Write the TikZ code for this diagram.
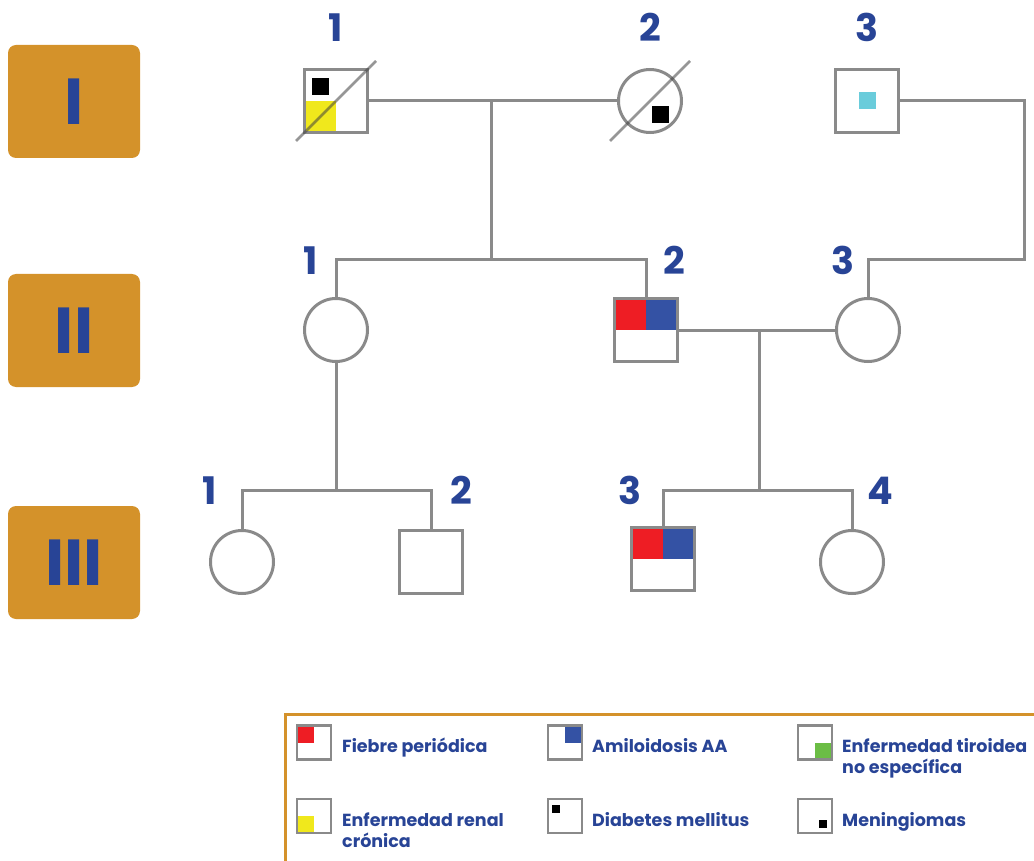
\documentclass[tikz,border=0pt]{standalone}
\usepackage{fontspec}
\setmainfont{Poppins}
\usetikzlibrary{positioning,calc}
\definecolor{genOrange}{RGB}{212,146,42}
\definecolor{txtBlue}{RGB}{40,68,150}
\definecolor{lineGray}{RGB}{138,138,138}
\definecolor{fpRed}{RGB}{238,29,36}
\definecolor{aaBlue}{RGB}{52,82,164}
\definecolor{ercYellow}{RGB}{240,232,28}
\definecolor{thGreen}{RGB}{107,189,69}
\definecolor{mnCyan}{RGB}{106,204,219}
\def\symW{63}
\def\legW{34}
\def\lineW{3pt}
\tikzset
{
  Male/.style =
  {
    draw=lineGray,
    line width=\lineW,
    fill=white,
    minimum size=\symW pt,
    inner sep=0pt,
  },
  Female/.style = {Male, circle},
  Line/.style = {draw=lineGray, line width=\lineW},
  Dead/.style = {draw=black!75, opacity=0.55, line width=2.6pt},
  GenBox/.style =
  {
    fill=genOrange,
    rounded corners=8pt,
    minimum width=132pt,
    minimum height=113pt,
    inner sep=0pt,
    text=txtBlue,
    font=\fontsize{65}{65}\selectfont\bfseries,
    text height=46pt,
    text depth=0pt,
  },
  IdNum/.style = {text=txtBlue, font=\fontsize{38}{38}\selectfont\bfseries, anchor=base, inner sep=0pt},
  LegSym/.style = {draw=lineGray, line width=2.6pt, fill=white, minimum size=\legW pt, inner sep=0pt},
  LegText/.style = {text=txtBlue, font=\fontsize{17.5}{21}\selectfont\bfseries, anchor=base west, align=left, inner sep=0pt},
}
\begin{document}
\begin{tikzpicture}
[
  x=1pt, y=-1pt, % pixel grid, y runs down
]
\useasboundingbox (0,0) rectangle (1034,861);

% generations
\node (genI) [GenBox] at (74,101.5) {I};
\node (genII) [GenBox] at (74,330.5) {II};
\node (genIII) [GenBox] at (74,562.5) {III};

% generation I
\node (I1) [Male, path picture={
    \fill[ercYellow] (path picture bounding box.south west) rectangle (path picture bounding box.center);
    \fill[black] ($(path picture bounding box.center)+(-24pt,23pt)$) rectangle ++(17pt,-17pt);
  }] at (336,101) {};
\node (I2) [Female, path picture={
    \fill[black] ($(path picture bounding box.center)+(2pt,-5pt)$) rectangle ++(17pt,-17pt);
  }] at (650,101) {};
\node (I3) [Male, path picture={
    \fill[mnCyan] ($(path picture bounding box.center)+(-8.5pt,8.5pt)$) rectangle ++(17pt,-17pt);
  }] at (867,101) {};
\draw [Dead] ($(I1)+(-40,40)$) -- ($(I1)+(40,-40)$);
\draw [Dead] ($(I2)+(-40,40)$) -- ($(I2)+(40,-40)$);

% generation II
\node (II1) [Female] at (336,330) {};
\node (II2) [Male, path picture={
    \fill[fpRed] (path picture bounding box.north west) rectangle (path picture bounding box.center);
    \fill[aaBlue] (path picture bounding box.north) rectangle (path picture bounding box.east);
  }] at (646,330) {};
\node (II3) [Female] at (868,330) {};

% generation III
\node (III1) [Female] at (242,562) {};
\node (III2) [Male] at (431,562) {};
\node (III3) [Male, path picture={
    \fill[fpRed] (path picture bounding box.north west) rectangle (path picture bounding box.center);
    \fill[aaBlue] (path picture bounding box.north) rectangle (path picture bounding box.east);
  }] at (663,559) {};
\node (III4) [Female] at (852,562) {};

% lines
\coordinate (mI) at (491,101);
\coordinate (sII) at (491,260);
\coordinate (mR) at (1024,101);
\coordinate (sR) at (1024,260);
\coordinate (sIIIa) at (336,490);
\coordinate (mII) at (759,330);
\coordinate (sIIIb) at (759,490);
\draw [Line] (I1) -- (I2);
\draw [Line] (mI) -- (sII);
\draw [Line] (II1.north) |- (sII) -| (II2.north);
\draw [Line] (I3) -- (mR) -- (sR) -| (II3.north);
\draw [Line] (II1) -- (sIIIa);
\draw [Line] (III1.north) |- (sIIIa) -| (III2.north);
\draw [Line] (II2) -- (II3);
\draw [Line] (mII) -- (sIIIb);
\draw [Line] (III3.north) |- (sIIIb) -| (III4.north);

% numbers
\node (nI1) [IdNum] at (336,42) {1};
\node (nI2) [IdNum] at (650,42) {2};
\node (nI3) [IdNum] at (867,42) {3};
\node (nII1) [IdNum] at (311,275) {1};
\node (nII2) [IdNum] at (674,275) {2};
\node (nII3) [IdNum] at (843,275) {3};
\node (nIII1) [IdNum] at (210,504) {1};
\node (nIII2) [IdNum] at (461,504) {2};
\node (nIII3) [IdNum] at (630,504) {3};
\node (nIII4) [IdNum] at (880,504) {4};

% legend
\draw [genOrange, line width=3pt] (285,714) rectangle (1045,872);
\node (lFP) [LegSym, path picture={
    \fill[fpRed] (path picture bounding box.north west) rectangle (path picture bounding box.center);
  }] at (314,742.5) {};
\node (lAA) [LegSym, path picture={
    \fill[aaBlue] (path picture bounding box.north) rectangle (path picture bounding box.east);
  }] at (565,742.5) {};
\node (lTH) [LegSym, path picture={
    \fill[thGreen] (path picture bounding box.south) rectangle (path picture bounding box.east);
  }] at (815,742.5) {};
\node (lER) [LegSym, path picture={
    \fill[ercYellow] (path picture bounding box.south west) rectangle (path picture bounding box.center);
  }] at (314,816) {};
\node (lDM) [LegSym, path picture={
    \fill[black] ($(path picture bounding box.center)+(-13pt,11pt)$) rectangle ++(8pt,-8pt);
  }] at (565,816) {};
\node (lMN) [LegSym, path picture={
    \fill[black] ($(path picture bounding box.center)+(4pt,-4pt)$) rectangle ++(8pt,-8pt);
  }] at (815,816) {};
\node (tFP) [LegText] at (342,752.5) {Fiebre periódica};
\node (tAA) [LegText] at (592,752.5) {Amiloidosis AA};
\node (tTH) [LegText] at (842,773.5) {Enfermedad tiroidea\\no específica};
\node (tER) [LegText] at (342,847.5) {Enfermedad renal\\crónica};
\node (tDM) [LegText] at (592,826.5) {Diabetes mellitus};
\node (tMN) [LegText] at (842,826.5) {Meningiomas};
\end{tikzpicture}
\end{document}
